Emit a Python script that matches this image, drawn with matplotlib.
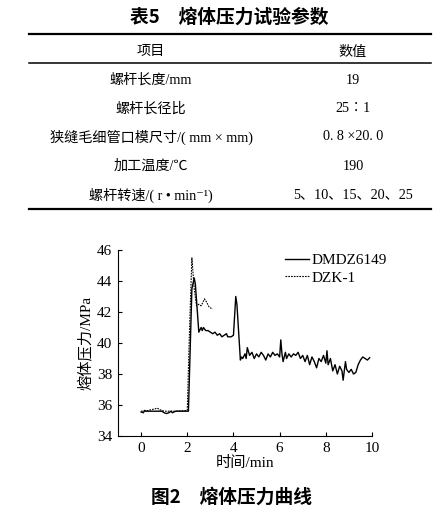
import matplotlib
matplotlib.use("Agg")
import matplotlib.pyplot as plt
from matplotlib.lines import Line2D

FAM = ['Liberation Serif', 'Noto Sans CJK SC', 'DejaVu Sans']
CJK = ['Noto Sans CJK SC', 'DejaVu Sans']

# ---- table data ----
table_title = "表5　熔体压力试验参数"
table_header = ["项目", "数值"]
table_items = ["螺杆长度/mm", "螺杆长径比", "狭缝毛细管口模尺寸/( mm × mm)", "加工温度/℃", "螺杆转速/( r • min⁻¹)"]
table_values = ["19", "25∶1", "0. 8 ×20. 0", "190", "5、10、15、20、25"]

# ---- chart data ----
dmdz_x = [0, 0.1, 0.15, 0.2, 0.5, 0.9, 1.0, 1.1, 1.2, 1.3, 1.35, 1.5, 2.0, 2.05,
          2.2, 2.3, 2.35, 2.5, 2.6, 2.65, 2.7, 2.8, 2.9, 3.0, 3.1, 3.2, 3.3, 3.4, 3.5,
          3.6, 3.7, 3.75, 3.9, 4.0, 4.1, 4.15, 4.3, 4.35, 4.4, 4.5, 4.55, 4.6, 4.7,
          4.8, 4.9, 5.0, 5.1, 5.2, 5.3, 5.4, 5.5, 5.6, 5.7, 5.8, 5.9, 6.0, 6.05, 6.1,
          6.15, 6.25, 6.3, 6.4, 6.5, 6.6, 6.7, 6.8, 6.9, 7.0, 7.1, 7.2, 7.3, 7.4, 7.5,
          7.6, 7.7, 7.8, 7.9, 8.0, 8.05, 8.1, 8.2, 8.3, 8.4, 8.5, 8.6, 8.7, 8.75, 8.85,
          8.9, 9.0, 9.1, 9.2, 9.3, 9.4, 9.5, 9.6, 9.7, 9.8, 9.9]
dmdz_y = [35.55, 35.5, 35.65, 35.6, 35.6, 35.6, 35.5, 35.45, 35.5, 35.6, 35.5, 35.6, 35.6, 35.6,
          43.5, 44.2, 43.8, 40.7, 41.0, 40.8, 41.0, 40.8, 40.8, 40.7, 40.6, 40.7, 40.5, 40.6, 40.4,
          40.5, 40.6, 40.4, 40.4, 40.5, 43.0, 42.5, 38.9, 39.1, 39.0, 39.3, 39.0, 39.7, 39.2,
          39.4, 39.0, 39.3, 39.1, 39.4, 39.2, 38.9, 39.3, 39.1, 39.4, 39.2, 39.3, 39.1, 40.2, 39.3,
          38.8, 39.4, 39.0, 39.3, 39.1, 39.3, 39.2, 39.4, 39.0, 39.2, 38.8, 39.2, 38.6, 39.1, 38.8,
          38.4, 39.0, 38.8, 39.2, 38.7, 39.5, 38.6, 39.0, 38.2, 38.6, 38.0, 38.5, 38.2, 37.6, 38.8,
          38.3, 38.1, 38.3, 38.0, 38.1, 38.6, 38.9, 39.1, 39.0, 38.9, 39.05]
dzk_x = [0, 0.3, 0.6, 0.7, 0.8, 1.0, 1.5, 2.0, 2.1, 2.2, 2.3, 2.4, 2.5, 2.6, 2.7, 2.75, 2.85, 2.95, 3.1]
dzk_y = [35.6, 35.65, 35.75, 35.8, 35.7, 35.6, 35.6, 35.65, 41.0, 45.5, 43.5, 42.4, 42.5, 42.4, 42.7, 42.85, 42.6, 42.3, 42.2]

xticks = [0, 2, 4, 6, 8, 10]
yticks = [34, 36, 38, 40, 42, 44, 46]

W, H = 446, 513
fig = plt.figure(figsize=(W / 100, H / 100), dpi=100)

def fx(px):
    return px / W

def fy(py):
    return 1 - py / H

# ---- table ----
fig.text(fx(229), fy(17), table_title, family=CJK, fontsize=13.5, fontweight='bold',
         ha='center', va='center')
for yy, lw in [(34, 1.6), (63, 1.1), (209, 1.6)]:
    fig.add_artist(Line2D([fx(29), fx(431)], [fy(yy), fy(yy)], color='black', lw=lw))
col1, col2 = 151, 353
fs_tab = 10.2
fig.text(fx(col1), fy(52), table_header[0], family=FAM, fontsize=fs_tab, ha='center', va='center')
fig.text(fx(col2), fy(52), table_header[1], family=FAM, fontsize=fs_tab, ha='center', va='center')
row_y = [80, 109, 137, 166, 195]
for ry, it, val in zip(row_y, table_items, table_values):
    fig.text(fx(col1), fy(ry), it, family=FAM, fontsize=fs_tab, ha='center', va='center')
    fig.text(fx(col2), fy(ry), val, family=FAM, fontsize=fs_tab, ha='center', va='center')

# ---- chart ----
ax = fig.add_axes([fx(118), fy(436), fx(372) - fx(118), fy(250) - fy(436)])
ax.plot(dmdz_x, dmdz_y, color='black', lw=1.0, label='DMDZ6149')
ax.plot(dzk_x, dzk_y, color='black', lw=0.8, ls=(0, (1.5, 1.0)), label='DZK-1')
ax.set_xlim(-1, 10)
ax.set_ylim(34, 46)
ax.set_xticks(xticks)
ax.set_yticks(yticks)
ax.spines['top'].set_visible(False)
ax.spines['right'].set_visible(False)
ax.tick_params(direction='in', length=3, width=0.8, labelsize=11, pad=4)
for lab in ax.get_xticklabels() + ax.get_yticklabels():
    lab.set_family('Liberation Serif')
ax.set_xlabel('时间/min', family=FAM, fontsize=11, labelpad=1)
ax.set_ylabel('熔体压力/MPa', family=FAM, fontsize=11, labelpad=3)
leg = ax.legend(loc='upper right', frameon=False, prop={'family': 'Liberation Serif', 'size': 11},
                handlelength=1.6, handletextpad=0.15, labelspacing=0.25,
                bbox_to_anchor=(1.112, 1.055))

fig.text(fx(231), fy(497), "图2　熔体压力曲线", family=CJK, fontsize=13.5, fontweight='bold',
         ha='center', va='center')

fig.savefig('out.png', dpi=100)
